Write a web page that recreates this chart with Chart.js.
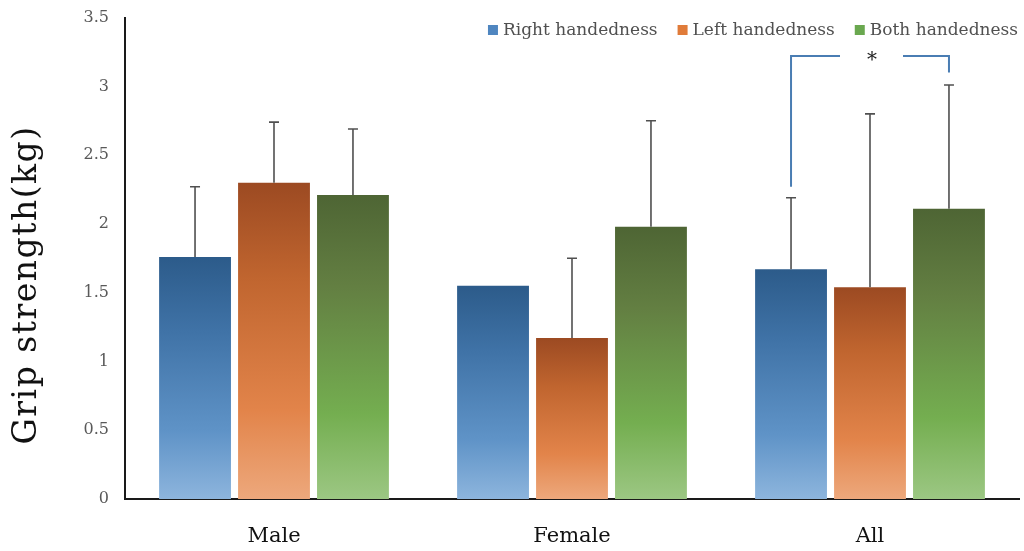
<!DOCTYPE html>
<html>
<head>
<meta charset="utf-8">
<title>Grip strength by handedness</title>
<script src="https://cdn.jsdelivr.net/npm/chart.js@4/dist/chart.umd.min.js"></script>
<style>
  html, body { margin: 0; padding: 0; background: #ffffff; }
  #wrap { width: 1024px; height: 551px; }
</style>
</head>
<body>
<div id="wrap"><canvas id="grip" width="1024" height="551"></canvas></div>
<script>
// Groups along the x axis
const groups = ['Male', 'Female', 'All'];

// Mean grip strength (kg) per handedness group
const rightMeans = [1.76, 1.55, 1.67];
const leftMeans  = [2.30, 1.17, 1.54];
const bothMeans  = [2.21, 1.98, 2.11];

// Upper error (SD) per bar; null = no bar drawn
const rightErr = [0.51, null, 0.52];
const leftErr  = [0.44, 0.58, 1.26];
const bothErr  = [0.48, 0.77, 0.90];

// Y-axis ticks
const yTicks = [0, 0.5, 1, 1.5, 2, 2.5, 3, 3.5];

// Significance bracket for "All": Right vs Both
const sigGroup = 2;
const sigLeftFoot = 2.27;
const sigRightFoot = 3.10;
const sigTop = 3.22;
const sigMark = '*';

const serif = "'DejaVu Serif', 'Liberation Serif', serif";

// Vertical gradient stops per series (top -> bottom)
const palettes = {
  right: { stops: ['#2c5b8a', '#3f72a6', '#5f93c7', '#8db5dd'], key: '#4f86c0' },
  left:  { stops: ['#9c4a22', '#c0652f', '#e2844a', '#eda87c'], key: '#e07b39' },
  both:  { stops: ['#4e6534', '#637f42', '#74ae50', '#9cc783'], key: '#6aa84f' }
};

function barFill(pal) {
  return (ctx) => {
    const chart = ctx.chart;
    if (!chart.chartArea || ctx.type !== 'data' || ctx.raw == null) return pal.key;
    const ys = chart.scales.y;
    const top = ys.getPixelForValue(ctx.raw);
    const bottom = ys.getPixelForValue(0);
    const g = chart.ctx.createLinearGradient(0, top, 0, bottom);
    g.addColorStop(0, pal.stops[0]);
    g.addColorStop(0.3, pal.stops[1]);
    g.addColorStop(0.72, pal.stops[2]);
    g.addColorStop(1, pal.stops[3]);
    return g;
  };
}

// Upward error bars with a flat cap
const errorBars = {
  id: 'errorBars',
  afterDatasetsDraw(chart) {
    const ctx = chart.ctx;
    const ys = chart.scales.y;
    chart.data.datasets.forEach((ds, di) => {
      const meta = chart.getDatasetMeta(di);
      meta.data.forEach((bar, i) => {
        const e = ds.errors[i];
        if (e == null) return;
        const yTop = ys.getPixelForValue(ds.data[i] + e);
        ctx.save();
        ctx.strokeStyle = '#505050';
        ctx.lineWidth = 1.6;
        ctx.beginPath();
        ctx.moveTo(bar.x, bar.y);
        ctx.lineTo(bar.x, yTop);
        ctx.moveTo(bar.x - 5, yTop);
        ctx.lineTo(bar.x + 5, yTop);
        ctx.stroke();
        ctx.restore();
      });
    });
  }
};

// Significance bracket, y-axis title and legend
const annotations = {
  id: 'annotations',
  afterDraw(chart) {
    const ctx = chart.ctx;
    const ys = chart.scales.y;
    const xs = chart.scales.x;
    const leftBar = chart.getDatasetMeta(0).data[sigGroup];
    const rightBar = chart.getDatasetMeta(2).data[sigGroup];
    const cx = xs.getPixelForValue(sigGroup);
    const yT = ys.getPixelForValue(sigTop);

    ctx.save();
    ctx.strokeStyle = '#4a7db3';
    ctx.lineWidth = 2;
    ctx.beginPath();
    ctx.moveTo(leftBar.x, ys.getPixelForValue(sigLeftFoot));
    ctx.lineTo(leftBar.x, yT);
    ctx.lineTo(cx - 30, yT);
    ctx.moveTo(cx + 33, yT);
    ctx.lineTo(rightBar.x, yT);
    ctx.lineTo(rightBar.x, ys.getPixelForValue(sigRightFoot));
    ctx.stroke();

    ctx.fillStyle = '#222';
    ctx.font = '20px ' + serif;
    ctx.textAlign = 'center';
    ctx.textBaseline = 'middle';
    ctx.fillText(sigMark, cx + 2, yT + 5);
    ctx.restore();

    // Y axis title
    ctx.save();
    ctx.translate(27, 285);
    ctx.rotate(-Math.PI / 2);
    ctx.fillStyle = '#111';
    ctx.font = '33px ' + serif;
    ctx.letterSpacing = '1.5px';
    ctx.textAlign = 'center';
    ctx.textBaseline = 'middle';
    ctx.fillText('Grip strength(kg)', 0, 0);
    ctx.restore();

    // Legend, right-aligned at the top of the plot
    ctx.save();
    ctx.font = '17px ' + serif;
    ctx.textBaseline = 'middle';
    ctx.textAlign = 'left';
    const box = 10, gap = 5, spacing = 20;
    const items = chart.data.datasets.map(ds => ({ label: ds.label, color: ds.keyColor, w: ctx.measureText(ds.label).width }));
    let x = 1018 - items.reduce((s, it) => s + box + gap + it.w, 0) - spacing * (items.length - 1);
    const y = 30;
    items.forEach(it => {
      ctx.fillStyle = it.color;
      ctx.fillRect(x, y - box / 2, box, box);
      ctx.fillStyle = '#505050';
      ctx.fillText(it.label, x + box + gap, y + 1);
      x += box + gap + it.w + spacing;
    });
    ctx.restore();
  }
};

function series(label, data, errors, pal) {
  return {
    label, data, errors,
    keyColor: pal.key,
    backgroundColor: barFill(pal),
    borderWidth: 0,
    categoryPercentage: 0.795,
    barPercentage: 0.91
  };
}

new Chart(document.getElementById('grip'), {
  type: 'bar',
  data: {
    labels: groups,
    datasets: [
      series('Right handedness', rightMeans, rightErr, palettes.right),
      series('Left handedness', leftMeans, leftErr, palettes.left),
      series('Both handedness', bothMeans, bothErr, palettes.both)
    ]
  },
  options: {
    responsive: false,
    animation: false,
    layout: { padding: { top: 7, right: 5, left: 0, bottom: 0 } },
    plugins: { legend: { display: false }, tooltip: { enabled: false } },
    scales: {
      x: {
        grid: { display: false },
        border: { display: true, color: '#1a1a1a', width: 2 },
        ticks: { color: '#111', font: { family: serif, size: 21 }, padding: 17 },
        afterFit(scale) { scale.height = 52; }
      },
      y: {
        min: 0, max: 3.5,
        afterBuildTicks(scale) { scale.ticks = yTicks.map(v => ({ value: v })); },
        grid: { display: false },
        border: { display: true, color: '#1a1a1a', width: 2 },
        ticks: { color: '#595959', font: { family: serif, size: 16 }, padding: 8,
                 callback: (v) => String(v) },
        afterFit(scale) { scale.width = 125; }
      }
    }
  },
  plugins: [errorBars, annotations]
});
</script>
</body>
</html>
